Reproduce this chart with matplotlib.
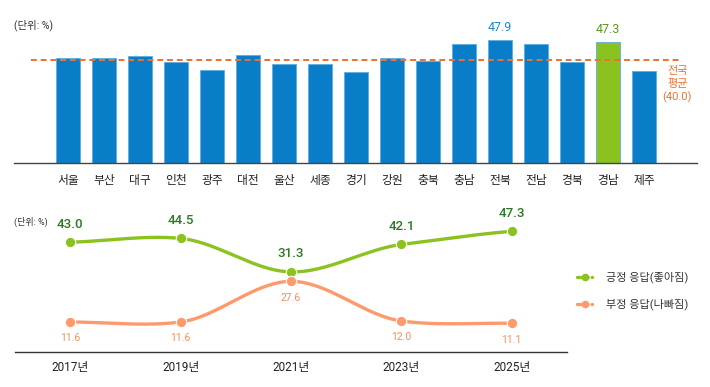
import numpy as np
import matplotlib
matplotlib.use('Agg')
import matplotlib.pyplot as plt

plt.rcParams['font.family'] = ['Roboto', 'Noto Sans CJK KR', 'DejaVu Sans']

# 지역별 긍정 응답 비율
regions = ['서울', '부산', '대구', '인천', '광주', '대전', '울산', '세종', '경기',
           '강원', '충북', '충남', '전북', '전남', '경북', '경남', '제주']
region_vals = [41.0, 40.7, 41.6, 39.3, 36.4, 42.1, 38.4, 38.6, 35.3,
               41.0, 39.7, 46.5, 47.9, 46.2, 39.3, 47.3, 35.8]
national_avg = 40.0

# 연도별 추이
years = ['2017년', '2019년', '2021년', '2023년', '2025년']
positive = [43.0, 44.5, 31.3, 42.1, 47.3]
negative = [11.6, 11.6, 27.6, 12.0, 11.1]

blue = '#0a7dc9'
green = '#8cc21f'
orange_dash = '#f07030'
orange_line = '#fd9a6c'


def smooth(xs, ys, n=40):
    # 곡선 그리기용 (cubic hermite)
    xs = np.asarray(xs, float)
    ys = np.asarray(ys, float)
    m = np.gradient(ys, xs) * 0.7
    px, py = [], []
    for i in range(len(xs) - 1):
        t = np.linspace(0, 1, n)
        h = xs[i + 1] - xs[i]
        h00 = 2 * t**3 - 3 * t**2 + 1
        h10 = t**3 - 2 * t**2 + t
        h01 = -2 * t**3 + 3 * t**2
        h11 = t**3 - t**2
        px.extend(xs[i] + t * h)
        py.extend(h00 * ys[i] + h10 * h * m[i] + h01 * ys[i + 1] + h11 * h * m[i + 1])
    return np.array(px), np.array(py)


fig = plt.figure(figsize=(7.1, 3.87), dpi=100)

# ---- 막대 차트 ----
ax1 = fig.add_axes([14 / 710, 1 - 163.3 / 387, 683 / 710, 143.3 / 387])
x = np.arange(len(regions))
colors = [green if r == '경남' else blue for r in regions]
ax1.bar(x, region_vals, width=0.667, color=colors, edgecolor='#5aaee0', linewidth=0.6)
ax1.plot([-1.03, 17.0], [national_avg, national_avg], ls=(0, (3, 2)), color=orange_dash, lw=1.4)
ax1.set_xlim(-1.5, 17.47)
ax1.set_ylim(0, 55.65)
ax1.set_xticks(x)
ax1.set_xticklabels(regions, fontsize=8.5, color='#222222')
ax1.tick_params(axis='x', length=0, pad=8)
ax1.set_yticks([])
for s in ['top', 'right', 'left']:
    ax1.spines[s].set_visible(False)
ax1.spines['bottom'].set_color('#444444')
ax1.spines['bottom'].set_linewidth(1.0)

i_max = regions.index('전북')
ax1.text(i_max, region_vals[i_max] + 2.2, f'{region_vals[i_max]:.1f}', ha='center', va='bottom',
         fontsize=9, color='#1a8ad4')
i_gn = regions.index('경남')
ax1.text(i_gn, region_vals[i_gn] + 2.2, f'{region_vals[i_gn]:.1f}', ha='center', va='bottom',
         fontsize=9, color='#5f9620')
ax1.text(16.92, national_avg - 2.4, f'전국\n평균\n({national_avg:.1f})', ha='center', va='top',
         fontsize=8, color=orange_dash, linespacing=1.3)
fig.text(14 / 710, 1 - 25 / 387, '(단위: %)', fontsize=7.5, color='#333333', va='center')

# ---- 선 차트 ----
ax2 = fig.add_axes([15 / 710, 1 - 351.5 / 387, 552 / 710, 151.5 / 387])
xi = np.arange(len(years))
sx, sy = smooth(xi, positive)
ax2.plot(sx, sy, color=green, lw=2.4, solid_capstyle='round')
ax2.plot(xi, positive, 'o', color=green, ms=7.5, mec='white', mew=0.8)
sx, sy = smooth(xi, negative)
ax2.plot(sx, sy, color=orange_line, lw=2.4, solid_capstyle='round')
ax2.plot(xi, negative, 'o', color=orange_line, ms=7.5, mec='white', mew=0.8)

for i, v in enumerate(positive):
    ax2.text(i, v + 4.5, f'{v:.1f}', ha='center', va='bottom', fontsize=9.5,
             color='#2a7a26', fontweight='medium')
for i, v in enumerate(negative):
    ax2.text(i, v - 4.5, f'{v:.1f}', ha='center', va='top', fontsize=7.5, color='#f09060')

ax2.set_xlim(-0.5, 4.5)
ax2.set_ylim(0, 59.6)
ax2.set_xticks(xi)
ax2.set_xticklabels(years, fontsize=8.5, color='#222222')
ax2.tick_params(axis='x', length=0, pad=7)
ax2.set_yticks([])
for s in ['top', 'right', 'left']:
    ax2.spines[s].set_visible(False)
ax2.spines['bottom'].set_color('#333333')
ax2.spines['bottom'].set_linewidth(1.0)
fig.text(14 / 710, 1 - 222 / 387, '(단위: %)', fontsize=6.5, color='#333333', va='center')

# 범례
for yy, c, lab in [(277, green, '긍정 응답(좋아짐)'), (304, orange_line, '부정 응답(나빠짐)')]:
    fy = 1 - yy / 387
    fig.add_artist(plt.Line2D([577 / 710, 592 / 710], [fy, fy], color=c, lw=2.4,
                              ls=(0, (1, 1.2)), dash_capstyle='round'))
    fig.add_artist(plt.Line2D([584.5 / 710], [fy], marker='o', color=c, ms=4.5))
    fig.text(606 / 710, fy, lab, fontsize=8, color='#333333', va='center')

fig.savefig('out.png', dpi=100)
